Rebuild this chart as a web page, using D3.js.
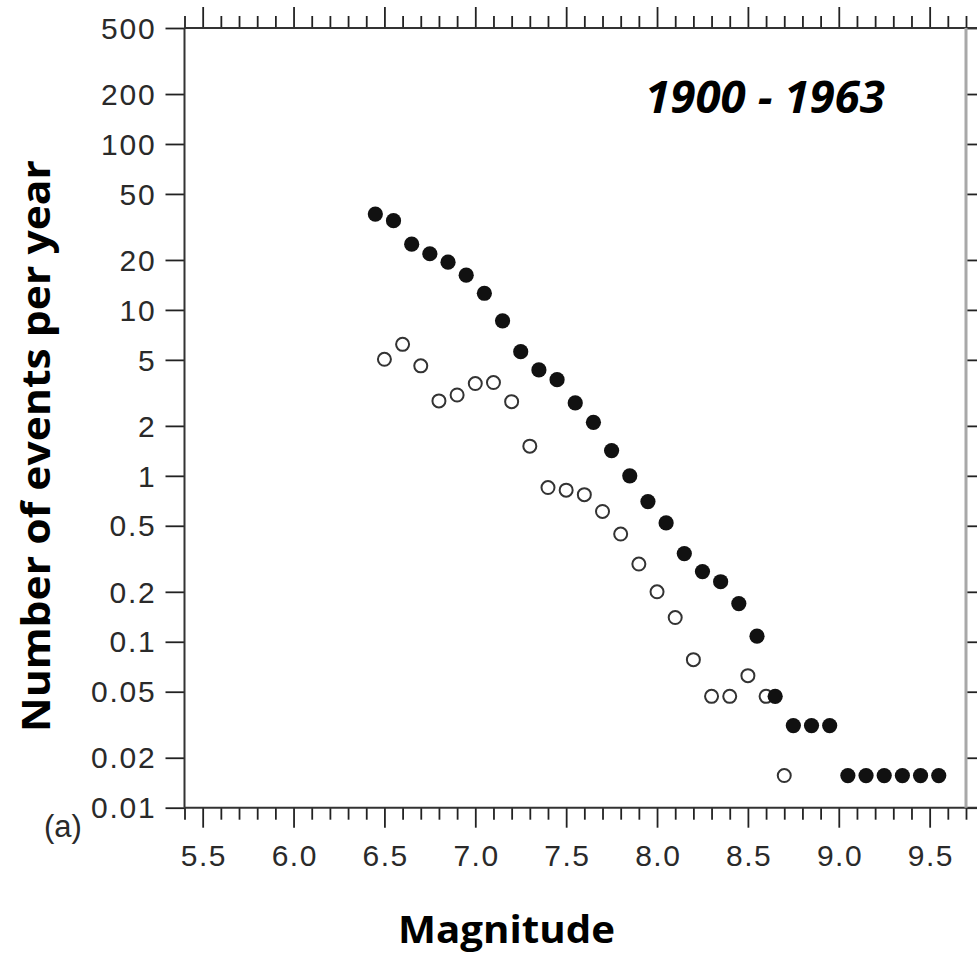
<!DOCTYPE html>
<html>
<head>
<meta charset="utf-8">
<script src="https://cdn.jsdelivr.net/npm/d3@7"></script>
<style>
  html, body { margin: 0; padding: 0; background: #fff; }
  svg { display: block; }
</style>
</head>
<body>
<svg id="chart" width="977" height="958"></svg>
<script>
// ---- data ----
const filledMagnitude = [6.45, 6.55, 6.65, 6.75, 6.85, 6.95, 7.05, 7.15, 7.25, 7.35, 7.45, 7.55, 7.65, 7.75, 7.85, 7.95,
  8.05, 8.15, 8.25, 8.35, 8.45, 8.55, 8.65, 8.75, 8.85, 8.95, 9.05, 9.15, 9.25, 9.35, 9.45, 9.55];
const filledRate = [37.8, 34.5, 24.9, 21.8, 19.4, 16.2, 12.6, 8.6, 5.6, 4.35, 3.8, 2.75, 2.1, 1.42, 1.0, 0.70,
  0.52, 0.34, 0.265, 0.23, 0.17, 0.108, 0.0469, 0.03125, 0.03125, 0.03125, 0.015625, 0.015625, 0.015625, 0.015625, 0.015625, 0.015625];
const openMagnitude = [6.5, 6.6, 6.7, 6.8, 6.9, 7.0, 7.1, 7.2, 7.3, 7.4, 7.5, 7.6, 7.7, 7.8, 7.9, 8.0,
  8.1, 8.2, 8.3, 8.4, 8.5, 8.6, 8.7];
const openRate = [5.04, 6.2, 4.6, 2.83, 3.07, 3.6, 3.65, 2.8, 1.51, 0.85, 0.82, 0.77, 0.61, 0.446, 0.294, 0.20,
  0.14, 0.078, 0.0469, 0.0469, 0.0625, 0.0469, 0.015625];
const yTickValues = [500, 200, 100, 50, 20, 10, 5, 2, 1, 0.5, 0.2, 0.1, 0.05, 0.02, 0.01];
const yTickLabels = ["500", "200", "100", "50", "20", "10", "5", "2", "1", "0.5", "0.2", "0.1", "0.05", "0.02", "0.01"];
const xMajorTicks = [5.5, 6.0, 6.5, 7.0, 7.5, 8.0, 8.5, 9.0, 9.5];
const xMajorLabels = ["5.5", "6.0", "6.5", "7.0", "7.5", "8.0", "8.5", "9.0", "9.5"];
const xTenths = d3.range(54, 98); // magnitude * 10, 5.4 .. 9.7
const periodLabel = "1900 - 1963";
const xTitle = "Magnitude";
const yTitle = "Number of events per year";
const panelLabel = "(a)";

// ---- layout ----
const svg = d3.select("#chart");
const pLeft = 184.5, pRight = 966, pTop = 28, pBottom = 807.7;
const x = d3.scaleLinear().domain([5.4, 9.7]).range([pLeft, pRight]);
const y = d3.scaleLog().domain([0.01, 500]).range([pBottom, pTop]);

const tickColor = "#222";
const labelFont = "'Liberation Sans', Arial, Helvetica, sans-serif";
const minorTicks = xTenths.filter(t => t % 5 !== 0).map(t => t / 10);

function styleAxis(g) {
  g.select(".domain").remove();
  g.selectAll(".tick line").attr("stroke", tickColor).attr("stroke-width", 1.8);
}

// bottom axis: minor then major
svg.append("g").attr("transform", `translate(0,${pBottom})`)
  .call(d3.axisBottom(x).tickValues(minorTicks).tickSize(12).tickFormat(""))
  .call(styleAxis);
svg.append("g").attr("transform", `translate(0,${pBottom})`)
  .call(d3.axisBottom(x).tickValues(xMajorTicks).tickSize(20).tickPadding(16)
    .tickFormat((d, i) => xMajorLabels[i]))
  .call(styleAxis)
  .call(g => g.selectAll("text")
    .attr("font-family", labelFont).attr("font-size", 30).attr("fill", "#2a2a2a")
    .attr("letter-spacing", "1.5px").attr("dx", "0.75px").attr("dy", null).attr("y", 58));

// top axis
svg.append("g").attr("transform", `translate(0,${pTop})`)
  .call(d3.axisTop(x).tickValues(minorTicks).tickSize(12).tickFormat(""))
  .call(styleAxis);
svg.append("g").attr("transform", `translate(0,${pTop})`)
  .call(d3.axisTop(x).tickValues(xMajorTicks).tickSize(21).tickFormat(""))
  .call(styleAxis);

// left axis
svg.append("g").attr("transform", `translate(${pLeft},0)`)
  .call(d3.axisLeft(y).tickValues(yTickValues).tickSize(19).tickPadding(8)
    .tickFormat((d, i) => yTickLabels[i]))
  .call(styleAxis)
  .call(g => g.selectAll("text")
    .attr("font-family", labelFont).attr("font-size", 30).attr("fill", "#2a2a2a")
    .attr("letter-spacing", "1.8px").attr("x", -28).attr("dy", "0.34em"));

// right axis ticks
svg.append("g").attr("transform", `translate(${pRight},0)`)
  .call(d3.axisRight(y).tickValues(yTickValues).tickSize(14).tickFormat(""))
  .call(styleAxis);

// axis lines
svg.append("line").attr("x1", pLeft).attr("x2", 977).attr("y1", pTop).attr("y2", pTop)
  .attr("stroke", "#333").attr("stroke-width", 2);
svg.append("line").attr("x1", pLeft).attr("x2", 977).attr("y1", pBottom).attr("y2", pBottom)
  .attr("stroke", "#333").attr("stroke-width", 2);
svg.append("line").attr("x1", pLeft).attr("x2", pLeft).attr("y1", pTop).attr("y2", pBottom)
  .attr("stroke", "#333").attr("stroke-width", 2);
svg.append("line").attr("x1", pRight).attr("x2", pRight).attr("y1", pTop).attr("y2", pBottom)
  .attr("stroke", "#a8a8a8").attr("stroke-width", 3);

// open circles
svg.append("g").selectAll("circle")
  .data(openMagnitude.map((m, i) => [m, openRate[i]]))
  .join("circle")
  .attr("cx", d => x(d[0])).attr("cy", d => y(d[1])).attr("r", 6.5)
  .attr("fill", "#fff").attr("stroke", "#333").attr("stroke-width", 2);

// filled circles
svg.append("g").selectAll("circle")
  .data(filledMagnitude.map((m, i) => [m, filledRate[i]]))
  .join("circle")
  .attr("cx", d => x(d[0])).attr("cy", d => y(d[1])).attr("r", 7.6)
  .attr("fill", "#111");

// texts
svg.append("text").attr("x", 765).attr("y", 113).attr("text-anchor", "middle")
  .attr("font-family", "'Open Sans', sans-serif").attr("font-weight", "bold").attr("font-style", "italic")
  .attr("font-size", 44).attr("fill", "#000")
  .attr("textLength", 240).attr("lengthAdjust", "spacingAndGlyphs")
  .text(periodLabel);

svg.append("text").attr("x", 506.5).attr("y", 943).attr("text-anchor", "middle")
  .attr("font-family", "'Open Sans', sans-serif").attr("font-weight", "bold")
  .attr("font-size", 38).attr("fill", "#000")
  .attr("textLength", 217).attr("lengthAdjust", "spacingAndGlyphs")
  .text(xTitle);

svg.append("text").attr("transform", "translate(50,446) rotate(-90)").attr("text-anchor", "middle")
  .attr("font-family", "'Open Sans', sans-serif").attr("font-weight", "bold")
  .attr("font-size", 39).attr("fill", "#000")
  .attr("textLength", 572).attr("lengthAdjust", "spacingAndGlyphs")
  .text(yTitle);

svg.append("text").attr("x", 63).attr("y", 837).attr("text-anchor", "middle")
  .attr("font-family", labelFont).attr("font-size", 31).attr("fill", "#2a2a2a")
  .text(panelLabel);
</script>
</body>
</html>
